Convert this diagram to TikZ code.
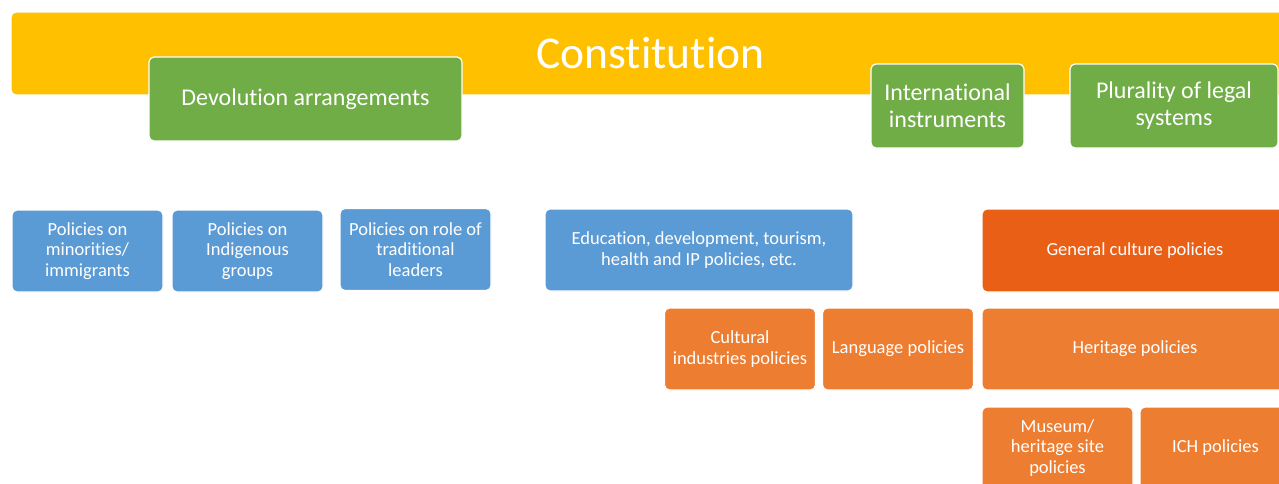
\documentclass[tikz,border=0pt]{standalone}
\usepackage{fontspec}
\setmainfont{Carlito}[RawFeature=-liga]
\usetikzlibrary{positioning}

\definecolor{boxyellow}{HTML}{FFC000}
\definecolor{boxgreen}{HTML}{70AD47}
\definecolor{boxblue}{HTML}{5B9BD5}
\definecolor{boxorange}{HTML}{ED7D31}
\definecolor{darkorange}{HTML}{EA5F16}

\begin{document}
\begin{tikzpicture}[x=1pt, y=-1pt, node distance=7pt,
                        base node/.style={rounded corners=5pt, draw=white, line width=1.2pt, outer sep=0pt, text=white, align=center, inner sep=0pt, font=\fontsize{18.5}{20.5}\selectfont},
                        small node/.style={base node, minimum width=151pt, minimum height=82pt},
                        blue node/.style={small node, fill=boxblue},
                        orange node/.style={small node, fill=boxorange},
                        green node/.style={base node, fill=boxgreen, minimum height=84pt, font=\fontsize{24}{27}\selectfont}]

      \useasboundingbox (0,0) rectangle (1279,483);
      \clip (0,0) rectangle (1279,483);

      % top bar and legal frame
      \node[base node, fill=boxyellow, minimum width=1279pt, minimum height=83pt, font=\fontsize{45.5}{50}\selectfont, anchor=north west] (const) at (11,12) {Constitution};
      \node[green node, minimum width=313pt] (devol) at (305.5,99) {Devolution arrangements};
      \node[green node, minimum width=153pt] (intl) at (947.5,106) {International\\instruments};
      \node[green node, minimum width=208pt] (plur) [right=46pt of intl] {Plurality of legal\\systems};

      % blue policies
      \node[blue node] (minor) at (87.5,251) {Policies on\\minorities/\\immigrants};
      \node[blue node] (indig) [right=9pt of minor] {Policies on\\Indigenous\\groups};
      \node[blue node] (lead) at (415.5,249.5) {Policies on role of\\traditional\\leaders};
      \node[blue node, minimum width=308pt] (edu) at (699,250) {Education, development, tourism,\\health and IP policies, etc.};

      % culture policies
      \node[orange node, fill=darkorange, minimum width=306pt, minimum height=83pt, anchor=north west] (gen) at (982,209) {General culture policies};
      \node[orange node, minimum width=306pt] (herit) [below=16pt of gen] {Heritage policies};
      \node[orange node] (museum) [below=17pt of herit.south west, anchor=north west] {Museum/\\heritage site\\policies};
      \node[orange node] (ich) [right=of museum] {ICH policies};
      \node[orange node] (cult) at (740,349) {Cultural\\industries policies};
      \node[orange node] (lang) [right=of cult] {Language policies};

\end{tikzpicture}
\end{document}
